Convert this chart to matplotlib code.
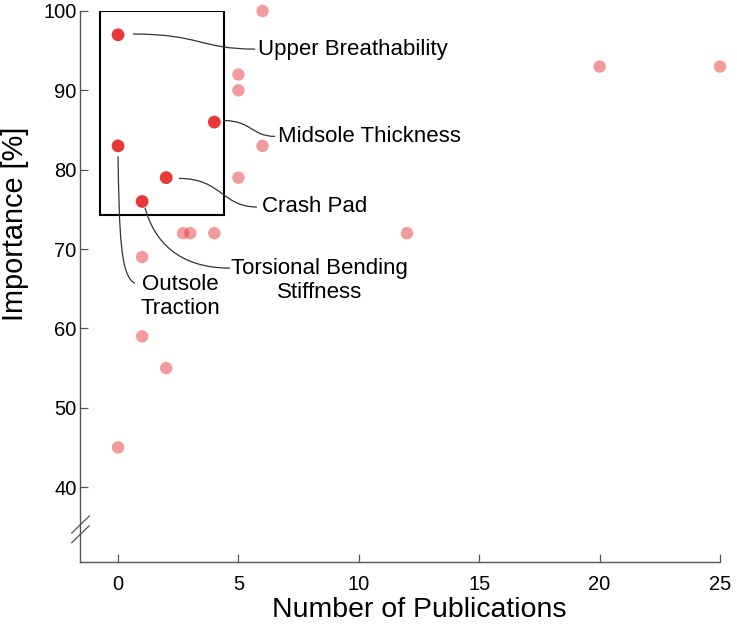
import matplotlib
matplotlib.use("Agg")
import matplotlib.pyplot as plt
from matplotlib.path import Path
from matplotlib.patches import PathPatch, Rectangle

plt.rcParams['font.family'] = ['Liberation Sans', 'DejaVu Sans']

# background studies (faded)
pubs = [6, 5, 5, 6, 5, 2.7, 3.0, 4, 1, 12, 1, 2, 0, 20, 25]
importance = [100, 92, 90, 83, 79, 72, 72, 72, 69, 72, 59, 55, 45, 93, 93]

# highlighted properties
hl_names = ["Upper Breathability", "Midsole Thickness", "Outsole\nTraction", "Crash Pad",
            "Torsional Bending\nStiffness"]
hl_pubs = [0, 4, 0, 2, 1]
hl_importance = [97, 86, 83, 79, 76]

xticks = [0, 5, 10, 15, 20, 25]
yticks = [40, 50, 60, 70, 80, 90, 100]

red = '#e8393a'

fig = plt.figure(figsize=(7.37, 6.28), dpi=100)
ax = fig.add_axes([80/737, 1-561.7/628, 640/737, 550.7/628])

ax.scatter(pubs, importance, s=80, color=red, alpha=0.5, edgecolors='none', clip_on=False, zorder=3)
ax.scatter(hl_pubs, hl_importance, s=85, color=red, edgecolors='none', clip_on=False, zorder=4)

ax.set_xlim(-1.58, 25)
ax.set_ylim(30.6, 100)
ax.set_xticks(xticks)
ax.set_yticks(yticks)
ax.tick_params(direction='in', length=6, width=0.9, color='#555555', labelsize=14.5)
ax.tick_params(axis='x', pad=9.5)
ax.tick_params(axis='y', pad=2.4)
for s in ['top', 'right']:
    ax.spines[s].set_visible(False)
for s in ['left', 'bottom']:
    ax.spines[s].set_color('#555555')
    ax.spines[s].set_linewidth(1.0)
ax.set_xlabel('Number of Publications', fontsize=20.5)
ax.set_ylabel('Importance [%]', fontsize=20.8)
ax.xaxis.set_label_coords(0.53, -0.064)
ax.yaxis.set_label_coords(-0.079, 0.613)

# highlight box
ax.add_patch(Rectangle((-0.75, 74.3), 5.15, 25.7, fill=False, edgecolor='black', lw=1.5, zorder=2))

# axis break marks
for y0 in (0.052, 0.0345):
    ax.plot([-8.3/640, 9.3/640], [y0, y0 + 0.031], transform=ax.transAxes, color='#555555',
            lw=0.9, clip_on=False)


def connector(p0, p1, c0, c1):
    verts = [p0, c0, c1, p1]
    codes = [Path.MOVETO, Path.CURVE4, Path.CURVE4, Path.CURVE4]
    ax.add_patch(PathPatch(Path(verts, codes), fill=False, edgecolor='#333333', lw=0.9, zorder=2))


def s_curve(p0, p1):
    dx = p1[0] - p0[0]
    connector(p0, p1, (p0[0] + 0.55*dx, p0[1]), (p1[0] - 0.45*dx, p1[1]))


fs = 16
# Upper Breathability
s_curve((0.62, 97.1), (5.69, 95.2))
ax.text(5.81, 95.2, hl_names[0], fontsize=fs, va='center', ha='left')
# Midsole Thickness
s_curve((4.36, 86.2), (6.52, 84.2))
ax.text(6.64, 84.2, hl_names[1], fontsize=fs, va='center', ha='left')
# Crash Pad
s_curve((2.53, 78.9), (5.77, 75.3))
ax.text(5.98, 75.3, hl_names[3], fontsize=fs, va='center', ha='left')
# Torsional Bending Stiffness
connector((1.12, 75.2), (4.65, 67.6), (1.5, 71.0), (2.5, 67.6))
ax.text(8.35, 66.0, hl_names[4], fontsize=fs, va='center', ha='center', linespacing=1.2)
# Outsole Traction
connector((0.0, 81.7), (0.7, 65.7), (0.05, 72.0), (0.1, 66.5))
ax.text(2.57, 64.0, hl_names[2], fontsize=fs, va='center', ha='center', linespacing=1.2)

fig.savefig('out.png', dpi=100)
